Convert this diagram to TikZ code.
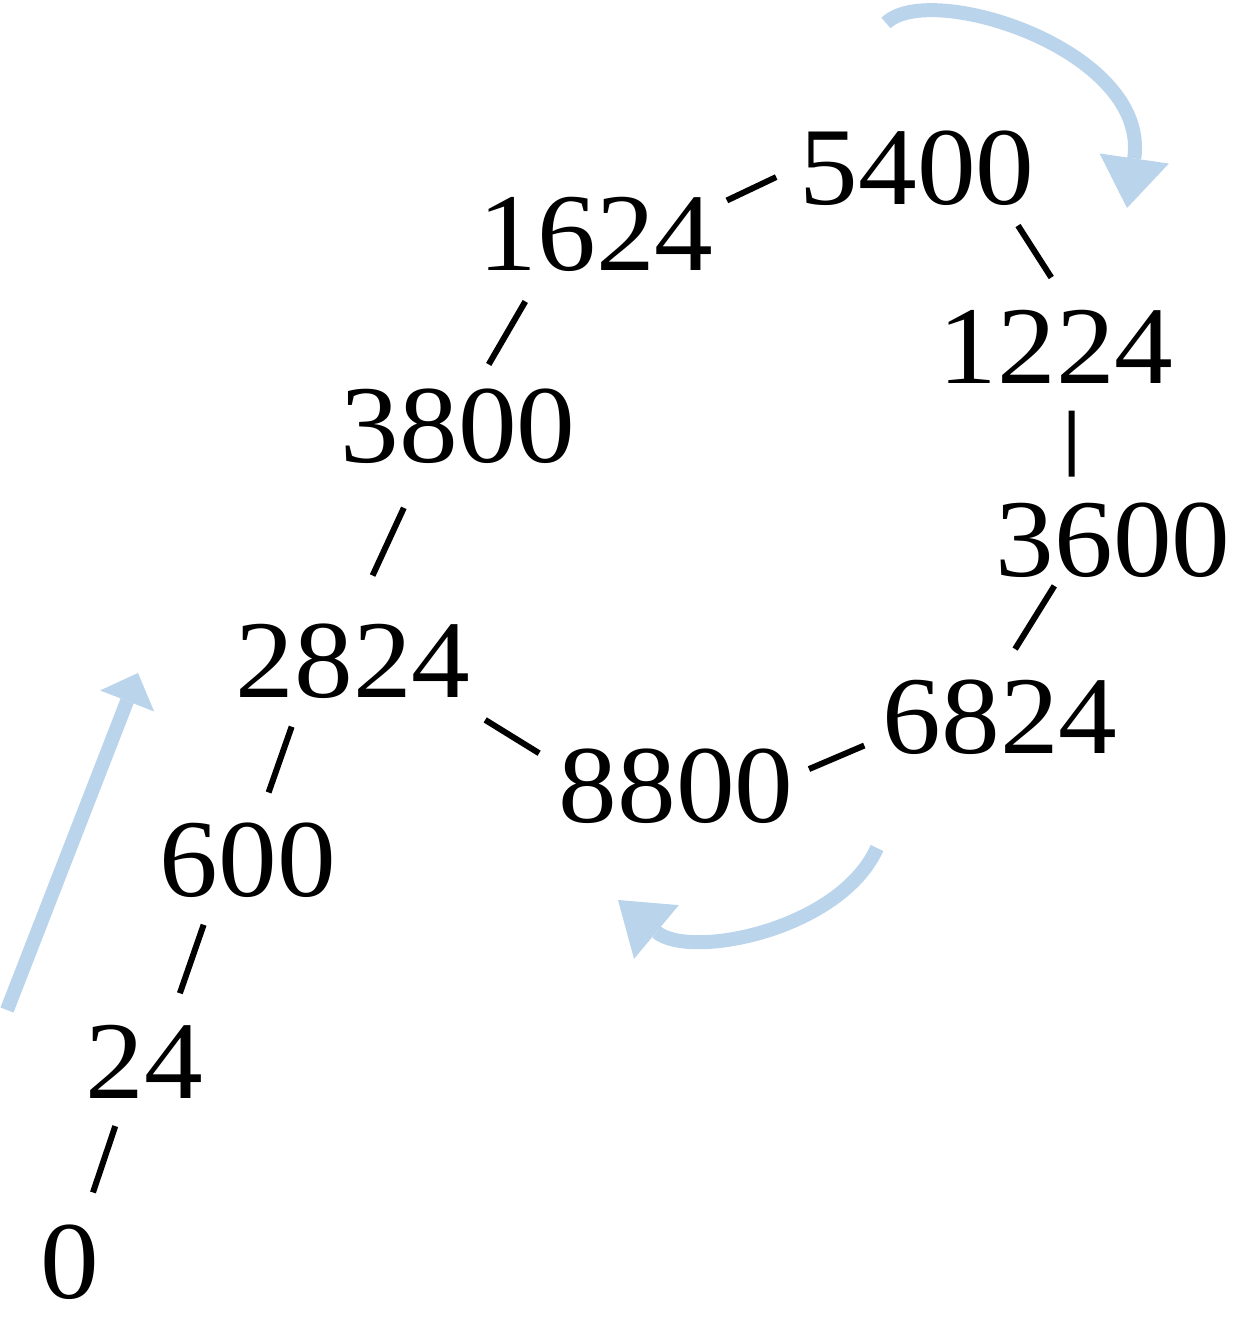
\documentclass[tikz,border=0pt]{standalone}
\usepackage{fontspec}
\usepackage{tikz}
\usetikzlibrary{arrows.meta}
\newfontfamily\numfont[FakeStretch=1.06]{Liberation Serif}
\definecolor{pblue}{HTML}{BAD4EC}

\begin{document}
\begin{tikzpicture}[
  x=1cm,y=1cm,>=Latex,
  num/.style={inner sep=0pt,outer sep=0pt,font=\numfont\fontsize{31.5}{38}\selectfont},
  link/.style={draw=black,line width=.06cm},
  rise/.style={draw=pblue,line width=.14cm,-{Triangle[length=.30cm,width=.58cm,line width=0pt]}},
  turn/.style={draw=pblue,line width=.14cm,-{Triangle[length=.50cm,width=.70cm,line width=0pt]}}
]
\useasboundingbox (0,0) rectangle (12.50,-13.26);

% The numbers, climbing from 0 and then turning round the loop.
\node[num] (n0) at (.70,-12.62) {0};
\node[num] (n24) at (1.44,-10.62) {24};
\node[num] (n600) at (2.48,-8.60) {600};
\node[num] (n2824) at (3.53,-6.61) {2824};
\node[num] (n3800) at (4.58,-4.26) {3800};
\node[num] (n1624) at (5.96,-2.34) {1624};
\node[num] (n5400) at (9.17,-1.68) {5400};
\node[num] (n1224) at (10.56,-3.47) {1224};
\node[num] (n3600) at (11.13,-5.40) {3600};
\node[num] (n6824) at (10.00,-7.17) {6824};
\node[num] (n8800) at (6.76,-7.86) {8800};

% Short links; the gaps to the digits are kept by shortening each end.
\draw[link,shorten <=.34cm,shorten >=.29cm] (n0.72) -- (n24.-118);
\draw[link,shorten <=.34cm,shorten >=.29cm] (n24.56) -- (n600.-133);
\draw[link,shorten <=.32cm,shorten >=.30cm] (n600.75) -- (n2824.-144);
\draw[link,shorten <=.53cm,shorten >=.49cm] (n2824.94) -- (n3800.-132);
\draw[link,shorten <=.28cm,shorten >=.35cm] (n3800.66) -- (n1624.-145);
\draw[link,shorten <=.15cm,shorten >=.26cm] (n1624.13) -- (n5400.179);
\draw[link,shorten <=.24cm,shorten >=.39cm] (n5400.-23) -- (n1224.66);
\draw[link,shorten <=.27cm,shorten >=.26cm] (n1224.-67) -- (n3600.138);
\draw[link,shorten <=.10cm,shorten >=.36cm] (n3600.-145) -- (n6824.96);
\draw[link,shorten <=.20cm,shorten >=.17cm] (n6824.-170) -- (n8800.5);
\draw[link,shorten <=.41cm,shorten >=.23cm] (n2824.-21) -- (n8800.170);

% Direction arrows (light blue).
\coordinate (riseA) at (.07,-10.10);
\coordinate (riseB) at (1.38,-6.73);
\coordinate (topA) at (8.86,-.23);
\coordinate (topB) at (11.27,-2.08);
\coordinate (lowA) at (8.77,-8.48);
\coordinate (lowB) at (6.18,-9.00);
\draw[rise] (riseA) -- (riseB);
\draw[turn] (topA) .. controls (9.30,.20) and (11.50,-.50) .. (topB);
\draw[turn] (lowA) .. controls (8.40,-9.30) and (6.90,-9.60) .. (lowB);
\end{tikzpicture}
\end{document}
